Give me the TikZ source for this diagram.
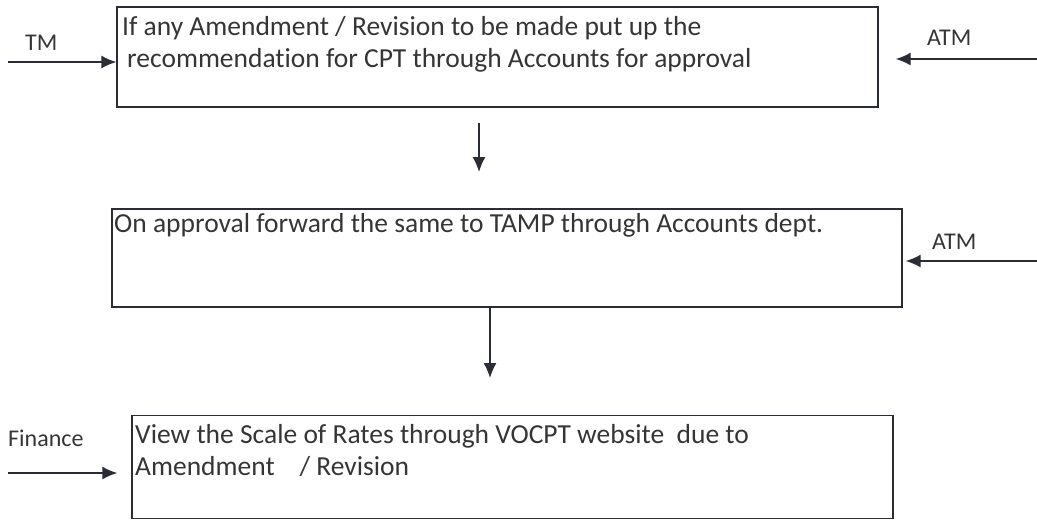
\documentclass[tikz,border=0pt]{standalone}
\usepackage{fontspec}
\setmainfont{Carlito}[Ligatures=NoCommon]
\usetikzlibrary{arrows.meta,calc}
\definecolor{ink}{HTML}{2A2C36}
\definecolor{txt}{HTML}{353535}
\begin{document}
\begin{tikzpicture}[x=1pt,y=-1pt,
  stepbox/.style={draw=ink,line width=1.4pt,rectangle,inner sep=0pt},
  boxtext/.style={anchor=base west,inner sep=0pt,text=txt,font=\fontsize{27.5}{32}\selectfont},
  lbl/.style={anchor=base west,inner sep=0pt,text=txt,font=\fontsize{24}{28}\selectfont},
  conn/.style={draw=ink,line width=1.4pt,-{Latex[length=15pt,width=13pt]}}]
\useasboundingbox (0,0) rectangle (1037,520);
% boxes
\node[stepbox,minimum width=761pt,minimum height=100pt] (b1) at (497.5,57) {};
\node[stepbox,minimum width=790pt,minimum height=98pt] (b2) at (507,258) {};
\node[stepbox,minimum width=761pt,minimum height=103pt] (b3) at (512.5,467) {};
% box texts
\node[boxtext] (t11) at (122,35) {If any Amendment / Revision to be made put up the};
\node[boxtext] (t12) at (127,67) {recommendation for CPT through Accounts for approval};
\node[boxtext] (t21) at (114,232) {On approval forward the same to TAMP through Accounts dept.};
\node[boxtext] (t31) at (135,443) {View the Scale of Rates through VOCPT website\ \ due to};
\node[boxtext] (t32) at (135,475) {Amendment\ \ \ \ / Revision};
% labels
\node[lbl] (tm) at (25,50) {TM};
\node[lbl] (atm1) at (927,45) {ATM};
\node[lbl] (atm2) at (932,249) {ATM};
\node[lbl] (fin) at (8,446) {Finance};
% connector ends
\coordinate (tm0) at (8,62);
\coordinate (atm10) at (1037,59);
\coordinate (atm20) at (1037,261);
\coordinate (fin0) at (8,473);
\coordinate (d1a) at (479,123);
\coordinate (d1b) at (479,172);
\coordinate (d2b) at (490,378);
% connectors
\draw[conn] (tm0) -- (tm0 -| b1.west);
\draw[conn] (atm10) -- ($(atm10 -| b1.east)+(17,0)$);
\draw[conn] (atm20) -- ($(atm20 -| b2.east)+(3,0)$);
\draw[conn] (fin0) -- ($(fin0 -| b3.west)+(-14,0)$);
\draw[conn] (d1a) -- (d1b);
\draw[conn] (d2b |- b2.south) -- (d2b);
\end{tikzpicture}
\end{document}
